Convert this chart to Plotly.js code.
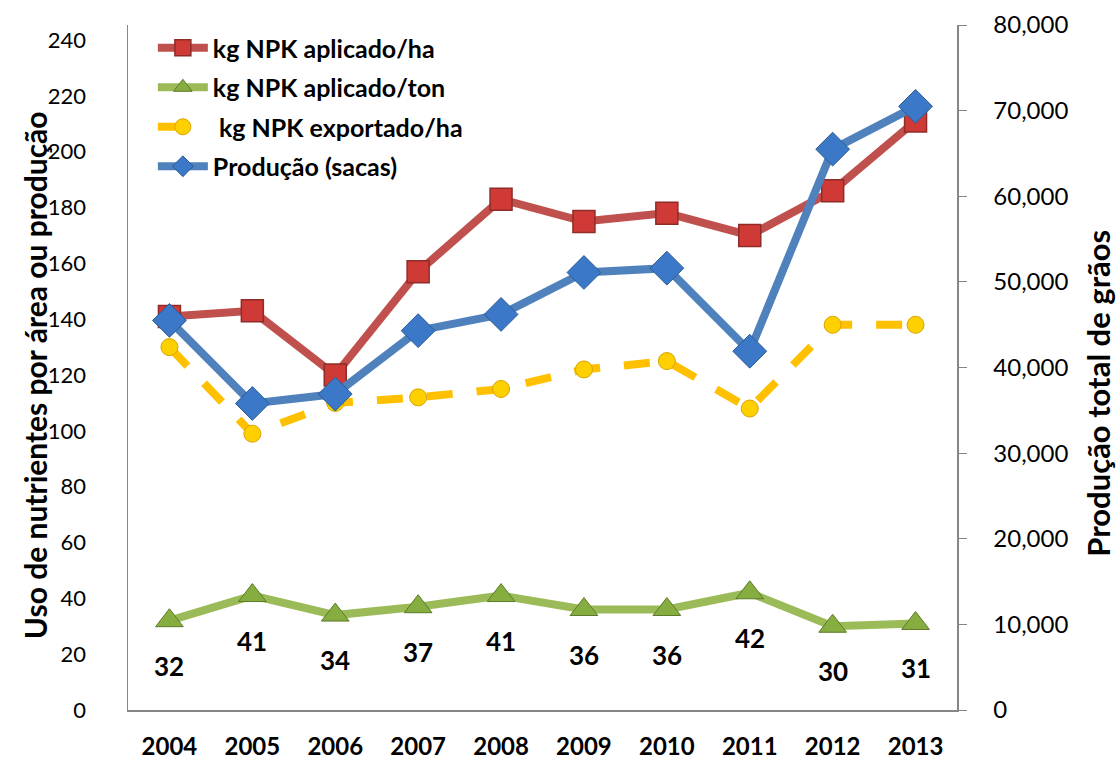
<!DOCTYPE html>
<html>
<head>
<meta charset="utf-8">
<script src="https://cdn.plot.ly/plotly-3.0.1.min.js"></script>
<style>
  html, body { margin: 0; padding: 0; background: #fff; }
  #chart { width: 1120px; height: 761px; }
</style>
</head>
<body>
<div id="chart"></div>
<script>
// Data
const anos = ['2004', '2005', '2006', '2007', '2008', '2009', '2010', '2011', '2012', '2013'];
const aplicadoHa = [141, 143, 120, 157, 183, 175, 178, 170, 186, 211];
const aplicadoTon = [32, 41, 34, 37, 41, 36, 36, 42, 30, 31];
const exportadoHa = [130, 99, 110, 112, 115, 122, 125, 108, 138, 138];
const producao = [45500, 35800, 36900, 44300, 46200, 51100, 51600, 41900, 65500, 70500];

const fonte = 'Lato, "Open Sans", sans-serif';

const traces = [
    {
        x: anos, y: aplicadoHa, name: 'kg NPK aplicado/ha',
        type: 'scatter', mode: 'lines+markers', legendgroup: 'a',
        line: { color: '#C0504D', width: 8 },
        marker: { symbol: 'square', size: 22, color: '#CF3A36', line: { color: '#8E2C29', width: 1.5 } }
    },
    {
        x: anos, y: aplicadoTon, name: 'kg NPK aplicado/ton',
        type: 'scatter', mode: 'lines+markers', legendgroup: 'b',
        line: { color: '#9BBB59', width: 8 },
        marker: { symbol: 'triangle-up', size: 24, color: '#86AD3F', line: { color: '#5E7A2A', width: 1 } }
    },
    {
        x: anos, y: exportadoHa, name: ' kg NPK exportado/ha',
        type: 'scatter', mode: 'lines+markers', legendgroup: 'c',
        line: { color: '#FFC000', width: 8, dash: '26px,24px' },
        marker: { symbol: 'circle', size: 17, color: '#FFD000', line: { color: '#D9A300', width: 1 } }
    },
    {
        x: anos, y: producao, name: 'Produção (sacas)', yaxis: 'y2',
        type: 'scatter', mode: 'lines+markers', legendgroup: 'd',
        line: { color: '#4F81BD', width: 8 },
        marker: { symbol: 'diamond', size: 26, color: '#3C78C8', line: { color: '#2B5A94', width: 1 } }
    }
];

// labels under the green series (x given as category index)
const rotulos = anos.map((ano, i) => ({
    x: i, y: aplicadoTon[i], xref: 'x', yref: 'y',
    text: String(aplicadoTon[i]), showarrow: false, yshift: -45,
    font: { family: fonte, size: 26, color: '#000', weight: 'bold' }
}));

// axis titles
const titulos = [
    {
        text: 'Uso de nutrientes por área ou produção',
        xref: 'paper', yref: 'paper', x: -0.112, y: 0.489,
        xanchor: 'center', yanchor: 'middle', textangle: -90, showarrow: false,
        font: { family: fonte, size: 30, color: '#000', weight: 'bold' }
    },
    {
        text: 'Produção total de grãos',
        xref: 'paper', yref: 'paper', x: 1.17, y: 0.463,
        xanchor: 'center', yanchor: 'middle', textangle: -90, showarrow: false,
        font: { family: fonte, size: 31, color: '#000', weight: 'bold' }
    }
];

const layout = {
    width: 1120,
    height: 761,
    margin: { l: 128, r: 163, t: 25, b: 51 },
    paper_bgcolor: '#fff',
    plot_bgcolor: '#fff',
    font: { family: fonte, color: '#000' },
    showlegend: true,
    legend: {
        x: 0.03, y: 1.0, xanchor: 'left', yanchor: 'top',
        bgcolor: 'rgba(0,0,0,0)',
        font: { family: fonte, size: 25, color: '#000', weight: 'bold' },
        tracegroupgap: 4,
        itemwidth: 50
    },
    xaxis: {
        type: 'category',
        range: [-0.5, 9.5],
        showline: true, linecolor: '#868686', linewidth: 1.5,
        ticks: '', showgrid: false, zeroline: false,
        ticklabelstandoff: 15,
        tickfont: { family: fonte, size: 24, weight: 'bold' }
    },
    yaxis: {
        range: [0, 245.4],
        dtick: 20,
        showline: true, linecolor: '#868686', linewidth: 1.5,
        ticks: '', showgrid: false, zeroline: false,
        ticklabelstandoff: 36,
        tickfont: { family: fonte, size: 22 }
    },
    yaxis2: {
        overlaying: 'y', side: 'right',
        range: [0, 80000],
        dtick: 10000,
        tickformat: ',d',
        showline: true, linecolor: '#868686', linewidth: 1.5,
        ticks: 'outside', ticklen: 8, tickcolor: '#868686',
        showgrid: false, zeroline: false,
        ticklabelstandoff: 22,
        tickfont: { family: fonte, size: 24 }
    },
    annotations: rotulos.concat(titulos)
};

Plotly.newPlot('chart', traces, layout, { displayModeBar: false, staticPlot: true });
</script>
</body>
</html>
